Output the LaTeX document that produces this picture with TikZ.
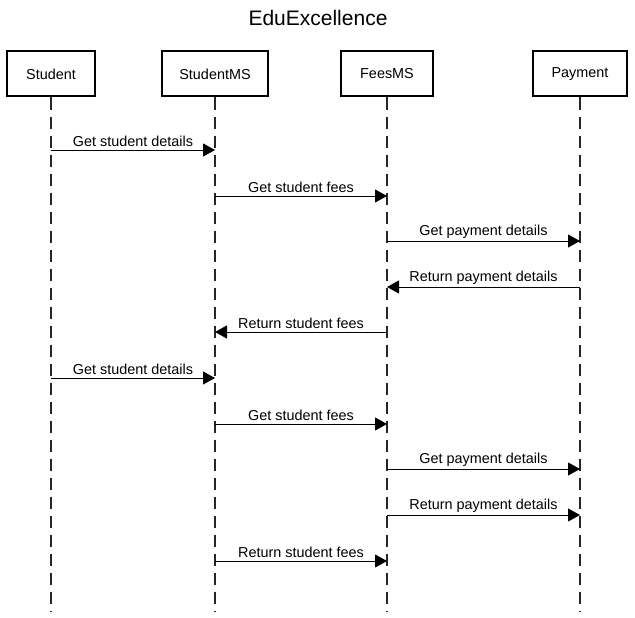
\documentclass[tikz,border=0pt]{standalone}
\usepackage{fontspec}
\setmainfont{Liberation Sans}
\usetikzlibrary{arrows.meta}

\begin{document}
\begin{tikzpicture}[x=1pt, y=-1pt,
		actor/.style={draw, line width=2pt, minimum height=45pt, inner sep=0pt, font=\fontsize{14.4}{16}\selectfont},
		lifeline/.style={line width=1.3pt, dash pattern=on 12pt off 7pt, gray!30!black},
		msg/.style={-{Triangle[length=12pt, width=13pt]}, line width=0.9pt},
		lbl/.style={above, font=\fontsize{14.4}{16}\selectfont, inner sep=2.5pt}]
		\useasboundingbox (0,0) rectangle (635,618);
		\node (title) at (318,18) {\fontsize{21}{24}\selectfont EduExcellence};
		\node [actor, minimum width=88pt] (student) at (51,74) {Student};
		\node [actor, minimum width=106pt] (studentms) at (215,74) {StudentMS};
		\node [actor, minimum width=92pt] (feesms) at (387,74) {FeesMS};
		\node [actor, minimum width=94pt] (payment) at (580,74) {Payment};
		\foreach \a in {student, studentms, feesms, payment} {
			\coordinate (\a-end) at (\a.south |- 0,612);
			\draw [lifeline] (\a.south) -- (\a-end);
		}
		\foreach \y/\f/\t/\txt in {150/student/studentms/Get student details,
				196/studentms/feesms/Get student fees,
				241/feesms/payment/Get payment details,
				287/payment/feesms/Return payment details,
				332/feesms/studentms/Return student fees,
				378/student/studentms/Get student details,
				424/studentms/feesms/Get student fees,
				469/feesms/payment/Get payment details,
				515/feesms/payment/Return payment details,
				561/studentms/feesms/Return student fees} {
			\draw [msg] (\f.south |- 0,\y) -- (\t.south |- 0,\y) node [lbl, midway] {\txt};
		}
\end{tikzpicture}
\end{document}
